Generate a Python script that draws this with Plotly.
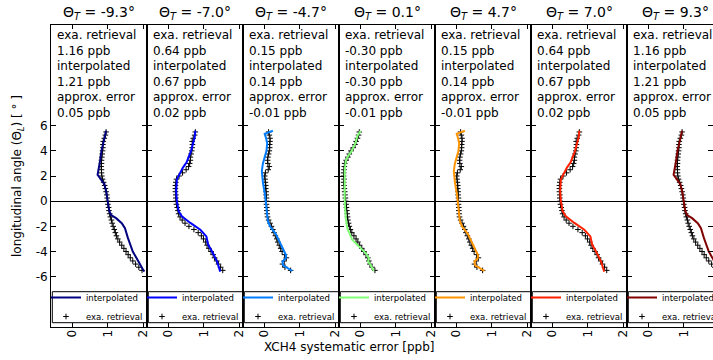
import plotly.graph_objects as go
from plotly.subplots import make_subplots

# ---------------- data ----------------
theta_T = [-9.3, -7.0, -4.7, 0.1, 4.7, 7.0, 9.3]
mean_exa = ["1.16", "0.64", "0.15", "-0.30", "0.15", "0.64", "1.16"]
mean_interp = ["1.21", "0.67", "0.14", "-0.30", "0.14", "0.67", "1.21"]
approx_err = ["0.05", "0.02", "-0.01", "-0.01", "-0.01", "0.02", "0.05"]
colors = ["#000080", "#0000ff", "#007dff", "#80ff77", "#ff9500", "#ff2000", "#800000"]

theta_L_exa = [5.5, 5.25, 5.0, 4.75, 4.5, 4.25, 4.0, 3.75, 3.5, 3.25, 3.0, 2.75, 2.5, 2.25, 2.0,
               1.75, 1.5, 1.25, 1.0, 0.75, 0.5, 0.25, 0.0, -0.25, -0.5, -0.75, -1.0, -1.25, -1.5,
               -1.75, -2.0, -2.25, -2.5, -2.75, -3.0, -3.25, -3.5, -3.75, -4.0, -4.25, -4.5, -4.75,
               -5.0, -5.25, -5.5]

exa_93 = [0.95, 0.93, 0.90, 0.87, 0.86, 0.86, 0.85, 0.84, 0.83, 0.82, 0.82, 0.81, 0.82, 0.82, 0.83,
          0.85, 0.88, 0.91, 0.93, 0.95, 0.97, 0.98, 0.99, 1.00, 1.02, 1.03, 1.05, 1.07, 1.10,
          1.12, 1.15, 1.18, 1.21, 1.24, 1.28, 1.33, 1.39, 1.45, 1.51, 1.57, 1.63, 1.70,
          1.78, 1.87, 1.96]
exa_70 = [0.76, 0.74, 0.70, 0.67, 0.68, 0.67, 0.66, 0.64, 0.62, 0.62, 0.60, 0.57, 0.50, 0.40, 0.30,
          0.23, 0.21, 0.20, 0.20, 0.20, 0.21, 0.21, 0.22, 0.23, 0.25, 0.27, 0.29, 0.33, 0.39,
          0.47, 0.58, 0.72, 0.84, 0.93, 0.99, 1.05, 1.09, 1.14, 1.20, 1.26, 1.30, 1.36,
          1.41, 1.47, 1.53]
exa_47 = [0.12, 0.14, 0.16, 0.16, 0.15, 0.15, 0.14, 0.12, 0.10, 0.09, 0.10, 0.14, 0.11, 0.03, 0.01,
          0.02, 0.03, 0.04, 0.04, 0.05, 0.05, 0.06, 0.06, 0.06, 0.07, 0.07, 0.08, 0.09, 0.12,
          0.16, 0.20, 0.24, 0.27, 0.31, 0.35, 0.38, 0.42, 0.46, 0.50, 0.57, 0.62, 0.56,
          0.51, 0.58, 0.74]
exa_01 = [-0.03, -0.05, -0.08, -0.12, -0.15, -0.20, -0.26, -0.31, -0.35, -0.40, -0.44, -0.45, -0.46, -0.47, -0.47,
          -0.46, -0.47, -0.46, -0.45, -0.44, -0.43, -0.42, -0.41, -0.40, -0.39, -0.38, -0.37, -0.36, -0.35,
          -0.33, -0.31, -0.28, -0.24, -0.18, -0.12, -0.07, -0.02, 0.04, 0.10, 0.16, 0.21, 0.24,
          0.27, 0.33, 0.41]

interp_y_93 = [5.6, 4.8, 4.0, 3.2, 2.6, 2.1, 1.75, 1.35, 0.8, 0.0, -0.8, -1.1, -1.35, -1.75, -2.15,
               -2.9, -4.0, -4.8, -5.6]
interp_x_93 = [0.95, 0.88, 0.82, 0.78, 0.74, 0.71, 0.80, 0.90, 0.95, 0.99, 1.04, 1.09, 1.23, 1.39, 1.48,
               1.56, 1.70, 1.86, 2.02]
interp_y_70 = [5.6, 5.07, 4.0, 3.07, 2.67, 2.0, 1.73, 0.8, 0.0, -0.8, -1.2, -1.73, -2.27, -2.8, -3.47,
               -4.0, -4.8, -5.6]
interp_x_70 = [0.76, 0.74, 0.64, 0.51, 0.41, 0.29, 0.24, 0.22, 0.24, 0.29, 0.38, 0.62, 0.90, 1.07, 1.12,
               1.23, 1.37, 1.46]
interp_y_47 = [5.6, 5.35, 5.0, 4.6, 4.0, 3.5, 3.0, 2.4, 1.5, 0.5, 0.0, -1.0, -1.6, -2.0, -2.6, -3.0,
               -3.5, -4.0, -4.3, -4.55, -4.8, -5.1, -5.3, -5.55]
interp_x_47 = [0.24, 0.01, 0.05, 0.08, 0.06, 0.01, -0.04, -0.07, -0.04, 0.02, 0.04, 0.06, 0.10, 0.16, 0.32, 0.39,
               0.47, 0.55, 0.61, 0.60, 0.51, 0.53, 0.63, 0.79]
interp_y_01 = [5.6, 5.2, 4.67, 4.4, 4.0, 3.6, 3.2, 2.4, 0.0, -1.33, -2.13, -3.07, -3.6, -4.13, -4.53,
               -4.8, -5.07, -5.55]
interp_x_01 = [0.01, -0.08, -0.13, -0.18, -0.24, -0.34, -0.41, -0.44, -0.44, -0.41, -0.37, -0.23, -0.04, 0.15, 0.24,
               0.22, 0.29, 0.38]

exa_panels = [exa_93, exa_70, exa_47, exa_01, exa_47, exa_70, exa_93]
interp_panels = [(interp_x_93, interp_y_93), (interp_x_70, interp_y_70), (interp_x_47, interp_y_47),
                 (interp_x_01, interp_y_01), (interp_x_47, interp_y_47), (interp_x_70, interp_y_70),
                 (interp_x_93, interp_y_93)]

y_ticks = [-6, -4, -2, 0, 2, 4, 6]
y_ticktext = ["-6", "-4", "-2", "0", "2", "4", "6"]
x_ticks = [0, 1, 2]
x_ticktext = ["0", "1", "2"]

# ---------------- layout geometry ----------------
W, H = 713, 360
L, T, B = 51, 25, 33
PW = 96                     # panel width in px
plot_w = W - L
plot_h = H - T - B
XMIN, XMAX = -0.6, 2.1
px_per_unit = PW / (XMAX - XMIN)
FONT = "DejaVu Sans"

n = len(theta_T)
fig = make_subplots(rows=1, cols=n, shared_yaxes=True, horizontal_spacing=0)

for i in range(n):
    leg = "legend" if i == 0 else f"legend{i+1}"
    ix, iy = interp_panels[i]
    fig.add_trace(go.Scatter(
        x=exa_panels[i], y=theta_L_exa, mode="markers", name="exa. retrieval",
        marker=dict(symbol="cross-thin", size=4, color="black", line=dict(width=1, color="black")),
        legend=leg, legendrank=2), row=1, col=i + 1)
    fig.add_trace(go.Scatter(
        x=ix, y=iy, mode="lines", name="interpolated",
        line=dict(color=colors[i], width=2),
        legend=leg, legendrank=1), row=1, col=i + 1)

    left_px = PW * i
    right_px = min(PW * (i + 1), plot_w)
    xmax = XMIN + (right_px - left_px) / px_per_unit
    fig.update_xaxes(domain=[left_px / plot_w, right_px / plot_w], range=[XMIN, xmax],
                     tickvals=x_ticks, ticktext=x_ticktext, tickangle=-90,
                     ticks="inside", ticklen=4, tickcolor="black", ticklabelstandoff=-3,
                     showline=True, linecolor="black", linewidth=1, mirror="ticks",
                     showgrid=False, zeroline=False,
                     tickfont=dict(family=FONT, size=12, color="black"),
                     row=1, col=i + 1)
    fig.update_yaxes(range=[-10, 14], tickvals=y_ticks, ticktext=y_ticktext,
                     ticks="inside", ticklen=5, tickcolor="black",
                     showline=True, linecolor="black", linewidth=1, mirror="ticks",
                     showgrid=False, zeroline=True, zerolinecolor="black", zerolinewidth=1,
                     tickfont=dict(family=FONT, size=12, color="black"),
                     row=1, col=i + 1)

    # title
    fig.add_annotation(xref="paper", yref="paper", x=(left_px + PW / 2) / plot_w, y=1,
                       xanchor="center", yanchor="bottom", yshift=1, showarrow=False,
                       text=f"Θ<sub><i>T</i></sub> = {theta_T[i]:.1f}°",
                       font=dict(family=FONT, size=14, color="black"))
    # statistics text
    fig.add_annotation(xref="paper", yref="paper", x=left_px / plot_w, y=1,
                       xanchor="left", yanchor="top", xshift=4, yshift=-1, showarrow=False,
                       align="left",
                       text=(f"exa. retrieval<br>{mean_exa[i]} ppb<br>interpolated<br>"
                             f"{mean_interp[i]} ppb<br>approx. error<br>{approx_err[i]} ppb"),
                       font=dict(family=FONT, size=12, color="black"))
    # legend box
    fig.add_shape(type="rect", xref="paper", yref="paper",
                  x0=(left_px + 1.3) / plot_w, x1=(left_px + PW - 0.3) / plot_w,
                  y0=4.3 / plot_h, y1=35.3 / plot_h,
                  line=dict(color="black", width=1), fillcolor="rgba(0,0,0,0)")
    fig.update_layout({leg: dict(x=(left_px - 5) / plot_w, y=(plot_h - 258) / plot_h,
                                 xanchor="left", yanchor="top",
                                 bgcolor="rgba(0,0,0,0)", borderwidth=0,
                                 font=dict(family=FONT, size=8.5, color="black"),
                                 itemwidth=30, tracegroupgap=0)})

fig.add_annotation(xref="paper", yref="paper", x=-(L - 18) / plot_w, y=0.5,
                   xanchor="center", yanchor="middle", textangle=-90, showarrow=False,
                   text="longitudinal angle (Θ<sub><i>L</i></sub>) [ ° ]",
                   font=dict(family=FONT, size=12, color="black"))
fig.add_annotation(xref="paper", yref="paper", x=(349 - L) / plot_w, y=-(347 - (H - B)) / plot_h,
                   xanchor="center", yanchor="middle", showarrow=False,
                   text="XCH4 systematic error [ppb]",
                   font=dict(family=FONT, size=12, color="black"))

fig.update_layout(width=W, height=H, margin=dict(l=L, r=0, t=T, b=B, autoexpand=False),
                  plot_bgcolor="white", paper_bgcolor="white", showlegend=True,
                  font=dict(family=FONT, color="black"))

fig.write_html("out.html")
